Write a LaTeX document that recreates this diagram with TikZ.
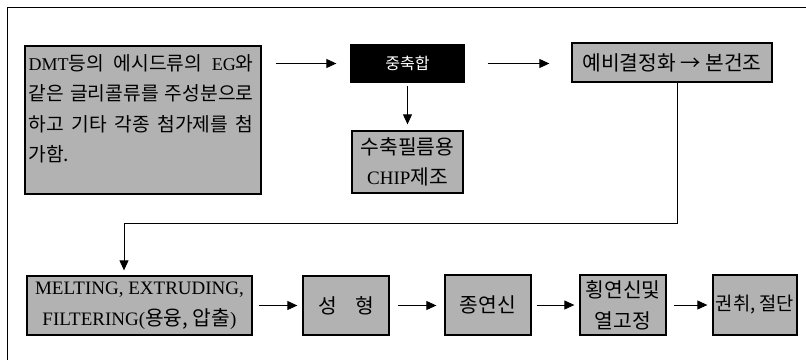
\documentclass[tikz,border=0pt]{standalone}
\usepackage{fontspec}
\setmainfont{Liberation Serif}
\newfontfamily\kr[Scale=1.07]{Noto Sans CJK KR}
\usetikzlibrary{arrows.meta}
\newcommand\K[1]{{\kr #1}}
\begin{document}
\begin{tikzpicture}[x=1pt,y=-1pt,
  box/.style={draw=black, line width=1.3pt, fill=black!30, inner sep=1pt,
    align=center, font=\fontsize{19}{31}\selectfont, shape=rectangle},
  txt/.style={inner sep=0pt, align=left, font=\fontsize{18}{30.5}\selectfont},
  arr/.style={line width=0.9pt, -{Triangle[length=10pt,width=9pt]}}]
\clip (0,0) rectangle (806,359);
\fill[white] (0,0) rectangle (806,359);
\draw[line width=1pt] (7,7) rectangle (830,380);
% top row
\node[box, minimum width=236pt, minimum height=148pt] (src) at (143,120) {};
\node[txt, anchor=north west] (srctext) at ([shift={(4,9)}]src.north west)
 {\makebox[225pt][s]{DMT\K{등의}\hfill\K{에시드류의}\hfill EG\K{와}}\\
  \makebox[225pt][s]{\K{같은}\hfill\K{글리콜류를}\hfill\K{주성분으로}}\\
  \makebox[225pt][s]{\K{하고}\hfill\K{기타}\hfill\K{각종}\hfill\K{첨가제를}\hfill\K{첨}}\\
  \K{가함.}};
\node[box, fill=black, text=white, minimum width=113pt, minimum height=37pt,
  font=\fontsize{15}{20}\selectfont] (hc) at (407.5,63.5) {\K{중축합}};
\node[box, minimum width=111pt, minimum height=62pt] (chip) at (407.5,162)
 {\K{수축필름용}\\[-1pt]CHIP\K{제조}};
\node[box, minimum width=200pt, minimum height=39pt] (pre) at (672,62.5)
 {\K{예비결정화 → 본건조}};
% bottom row
\node[box, minimum width=225pt, minimum height=59pt] (melt) at (139.5,305.5)
 {MELTING, EXTRUDING,\\FILTERING(\K{용융, 압출})};
\node[box, minimum width=86pt, minimum height=59pt] (form) at (346,305.5)
 {\K{성\hspace{0.9em}형}};
\node[box, minimum width=86pt, minimum height=60pt] (long) at (488,305)
 {\K{종연신}};
\node[box, minimum width=86pt, minimum height=60pt] (trans) at (623,305)
 {\K{횡연신및}\\\K{열고정}};
\node[box, minimum width=84pt, minimum height=60pt, font=\fontsize{17.5}{30}\selectfont] (wind) at (755,305)
 {\K{권취, 절단}};
% connectors
\draw[arr, shorten <=14pt, shorten >=14pt] (src.east |- hc.west) -- (hc.west);
\draw[arr, shorten <=3pt, shorten >=6pt] (hc.south) -- (chip.north);
\draw[arr, shorten <=23pt, shorten >=22pt] (hc.east) -- (pre.west |- hc.east);
\draw[arr, shorten >=5pt] ([xshift=5pt]pre.south) -- ++(0,141) -| ([xshift=-15.5pt]melt.north);
\draw[arr, shorten <=6pt, shorten >=5pt] (melt.east) -- (form.west);
\draw[arr, shorten <=8pt, shorten >=8pt] (form.east) -- (long.west |- form.east);
\draw[arr, shorten <=5pt, shorten >=5pt] (long.east) -- (trans.west);
\draw[arr, shorten <=7pt, shorten >=5pt] (trans.east) -- (wind.west);
\end{tikzpicture}
\end{document}
